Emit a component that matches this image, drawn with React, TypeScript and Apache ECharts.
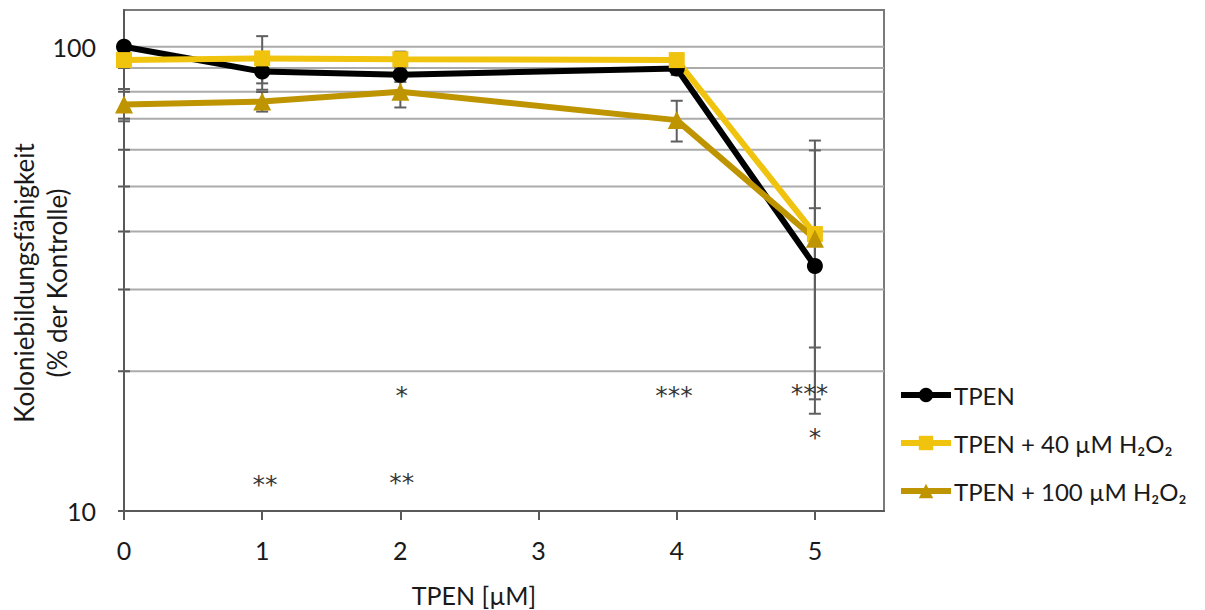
import React, { useEffect, useRef } from "react";
import * as echarts from "echarts";

// ---- data ----
const xValues = [0, 1, 2, 4, 5];
const tpen = [100, 88.4, 87, 89.8, 33.7];
const tpenErr = [0, 7.6, 3, 2.9, 11.2];
const tpen40 = [93.6, 94.4, 94, 93.6, 39.5];
const tpen40Err = [0, 11, 3.6, 3, 23.3];
const tpen100 = [75.1, 76.2, 80, 69.5, 38.6];
const tpen100Err = [6, 3.7, 6, 7, 21.2];

const seriesNames = ["TPEN", "TPEN + 40 µM H₂O₂", "TPEN + 100 µM H₂O₂"];
const seriesColors = ["#000000", "#F0C30F", "#BE9400"];
const seriesSymbols = ["circle", "rect", "triangle"];

const xTicks = [0, 1, 2, 3, 4, 5];
const yLabels = [10, 100];
const yGridValues = [20, 30, 40, 50, 60, 70, 80, 90, 100];
const yTickValues = [10, 20, 30, 40, 50, 60, 70, 80, 90, 100];

const starX = [1.02, 2.01, 2.01, 3.98, 4.96, 5.0];
const starY = [11.4, 17.7, 11.5, 17.7, 17.9, 14.4];
const starText = ["**", "*", "**", "***", "***", "*"];

const FONT = "Lato";
const TEXT_COLOR = "#1a1a1a";
const AXIS_COLOR = "#595959";

export default function App() {
  const ref = useRef<HTMLDivElement>(null);
  useEffect(() => {
    if (!ref.current) return;
    const chart = echarts.init(ref.current, undefined, { renderer: "svg" });
    const values = [tpen, tpen40, tpen100];
    const errs = [tpenErr, tpen40Err, tpen100Err];

    const lineSeries = values.map((vals, i) => ({
      name: seriesNames[i],
      type: "line",
      z: 3,
      data: xValues.map((x, j) => [x, vals[j]]),
      symbol: seriesSymbols[i],
      symbolSize: i === 2 ? 18 : 16,
      showAllSymbol: true,
      lineStyle: { color: seriesColors[i], width: 6 },
      itemStyle: { color: seriesColors[i] },
    }));

    const errorData: number[][] = [];
    errs.forEach((e, i) => {
      xValues.forEach((x, j) => {
        if (e[j] > 0) errorData.push([x, values[i][j], e[j]]);
      });
    });

    const starLabel = {
      show: true,
      position: "inside",
      fontFamily: "DejaVu Sans",
      fontSize: 25,
      letterSpacing: 2,
      color: "#000",
    };

    const option: any = {
      animation: false,
      textStyle: { fontFamily: FONT },
      grid: {
        left: 124,
        right: 321,
        top: 10,
        bottom: 99,
        show: true,
        borderColor: "#7a7a7a",
        borderWidth: 2,
        backgroundColor: "transparent",
      },
      legend: {
        data: seriesNames,
        orient: "vertical",
        left: 893,
        top: 378,
        itemWidth: 50,
        itemHeight: 18,
        itemGap: 24,
        lineStyle: { width: 6 },
        textStyle: {
          fontFamily: FONT,
          fontSize: 24,
          color: TEXT_COLOR,
          lineHeight: 24,
          padding: [0, 0, 0, -2],
        },
      },
      xAxis: {
        type: "value",
        min: 0,
        max: 5.5,
        interval: 1,
        axisLine: { show: true, lineStyle: { color: AXIS_COLOR, width: 2 } },
        axisTick: {
          show: true,
          length: 9,
          customValues: xTicks,
          lineStyle: { color: AXIS_COLOR, width: 2 },
        },
        axisLabel: {
          customValues: xTicks,
          margin: 26,
          fontFamily: FONT,
          fontSize: 25,
          color: TEXT_COLOR,
          formatter: (v: number) => String(v),
        },
        splitLine: { show: false },
      },
      yAxis: {
        type: "log",
        logBase: 10,
        min: 10,
        max: 120,
        axisLine: { show: true, lineStyle: { color: AXIS_COLOR, width: 2 } },
        axisTick: { show: false },
        axisLabel: {
          margin: 28,
          fontFamily: FONT,
          fontSize: 25,
          color: TEXT_COLOR,
          formatter: (v: number) => {
            const hit = yLabels.find((l) => Math.abs(l - v) < 1e-6 * l);
            return hit !== undefined ? String(hit) : "";
          },
        },
        splitLine: { show: false },
      },
      series: [
        {
          type: "custom",
          name: "grid",
          z: 1,
          silent: true,
          data: yTickValues.map((v) => [v]),
          renderItem: (params: any, api: any) => {
            const v = api.value(0);
            const l = api.coord([0, v]);
            const r = api.coord([5.5, v]);
            const children: any[] = [];
            if (yGridValues.includes(v)) {
              children.push({
                type: "line",
                shape: { x1: l[0], y1: l[1], x2: r[0], y2: r[1] },
                style: { stroke: "#ababab", lineWidth: 2 },
              });
            }
            children.push({
              type: "line",
              shape: { x1: l[0] - 6, y1: l[1], x2: l[0] + 6, y2: l[1] },
              style: { stroke: AXIS_COLOR, lineWidth: 2 },
            });
            return { type: "group", children };
          },
        },
        {
          type: "custom",
          name: "errors",
          z: 2,
          silent: true,
          data: errorData,
          renderItem: (params: any, api: any) => {
            const x = api.value(0);
            const y = api.value(1);
            const e = api.value(2);
            const t = api.coord([x, y + e]);
            const b = api.coord([x, y - e]);
            const w = 6;
            const st = { stroke: "#5f5f5f", lineWidth: 2 };
            return {
              type: "group",
              children: [
                { type: "line", shape: { x1: t[0], y1: t[1], x2: b[0], y2: b[1] }, style: st },
                { type: "line", shape: { x1: t[0] - w, y1: t[1], x2: t[0] + w, y2: t[1] }, style: st },
                { type: "line", shape: { x1: b[0] - w, y1: b[1], x2: b[0] + w, y2: b[1] }, style: st },
              ],
            };
          },
        },
        ...lineSeries,
        {
          type: "scatter",
          name: "stars",
          z: 4,
          silent: true,
          symbolSize: 2,
          itemStyle: { color: "rgba(0,0,0,0)" },
          labelLayout: { hideOverlap: false },
          label: starLabel,
          data: starX.map((x, i) => ({
            value: [x, starY[i]],
            label: { ...starLabel, formatter: starText[i] },
          })),
        },
      ],
      graphic: [
        {
          type: "text",
          x: 474,
          y: 595,
          style: {
            text: "TPEN [µM]",
            fontFamily: FONT,
            fontSize: 25,
            fill: TEXT_COLOR,
            align: "center",
            verticalAlign: "middle",
          },
        },
        {
          type: "text",
          x: 40,
          y: 283,
          rotation: Math.PI / 2,
          style: {
            text: "Koloniebildungsfähigkeit\n(% der Kontrolle)",
            fontFamily: FONT,
            fontSize: 26,
            lineHeight: 33,
            fill: TEXT_COLOR,
            align: "center",
            verticalAlign: "middle",
          },
        },
      ],
    };
    chart.setOption(option);
    return () => chart.dispose();
  }, []);
  return (
    <div
      ref={ref}
      style={{ position: "absolute", left: 0, top: 0, width: 1205, height: 610, background: "#fff" }}
    />
  );
}
